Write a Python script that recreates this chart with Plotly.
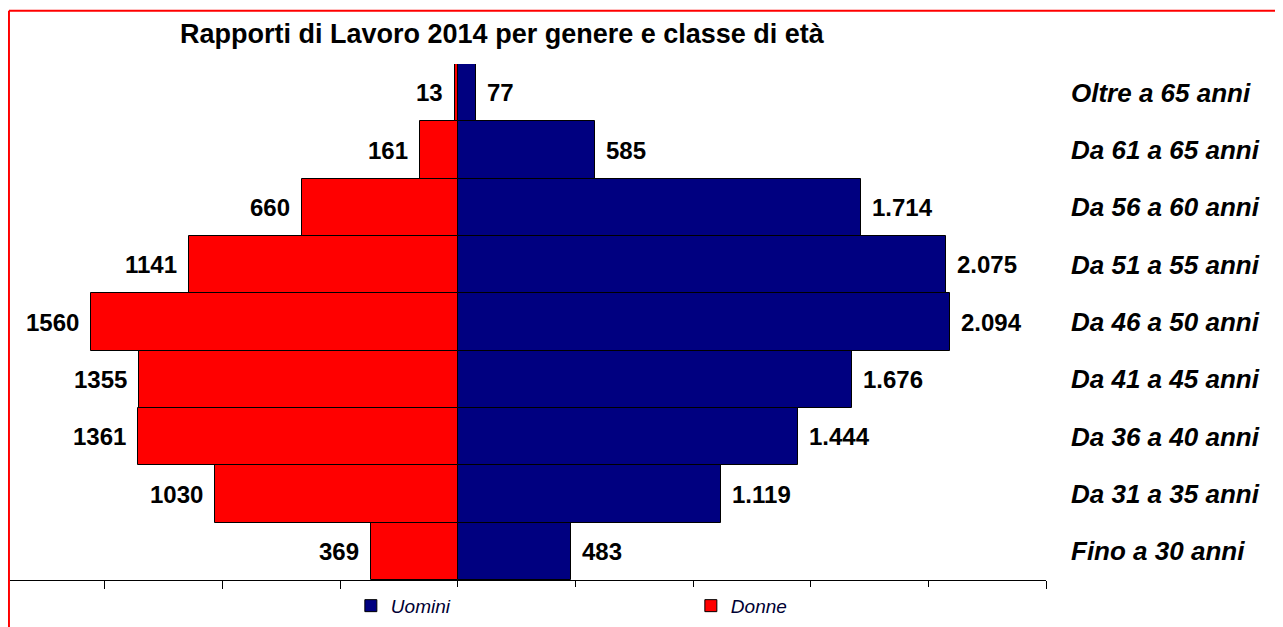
import plotly.graph_objects as go

# age classes, bottom to top
classi = [
    "Fino a 30 anni",
    "Da 31 a 35 anni",
    "Da 36 a 40 anni",
    "Da 41 a 45 anni",
    "Da 46 a 50 anni",
    "Da 51 a 55 anni",
    "Da 56 a 60 anni",
    "Da 61 a 65 anni",
    "Oltre a 65 anni",
]
uomini = [483, 1119, 1444, 1676, 2094, 2075, 1714, 585, 77]
donne = [369, 1030, 1361, 1355, 1560, 1141, 660, 161, 13]
tick_vals = [-1500, -1000, -500, 0, 500, 1000, 1500, 2000, 2500]

FONT = "Liberation Sans, Arial, sans-serif"


def it_thousands(v):
    return f"{v:,}".replace(",", ".")


fig = go.Figure()
fig.add_trace(
    go.Bar(
        y=classi,
        x=uomini,
        name="Uomini",
        orientation="h",
        marker=dict(color="#000080", line=dict(color="#000000", width=1)),
    )
)
fig.add_trace(
    go.Bar(
        y=classi,
        x=[-v for v in donne],
        name="Donne",
        orientation="h",
        marker=dict(color="#FF0000", line=dict(color="#000000", width=1)),
    )
)

# value labels
for c, v in zip(classi, uomini):
    fig.add_annotation(
        x=v, y=c, text=it_thousands(v), showarrow=False,
        xanchor="left", xshift=9,
        font=dict(family=FONT, size=24, color="#000000", weight="bold"),
    )
for c, v in zip(classi, donne):
    fig.add_annotation(
        x=-v, y=c, text=str(v), showarrow=False,
        xanchor="right", xshift=-10,
        font=dict(family=FONT, size=24, color="#000000", weight="bold"),
    )

# red chart border (top and left edges visible)
fig.add_shape(type="line", xref="paper", yref="paper", x0=-0.001, x1=1.3, y0=1.103, y1=1.103,
              line=dict(color="#FF0000", width=2))
fig.add_shape(type="line", xref="paper", yref="paper", x0=-0.001, x1=-0.001, y0=-0.2, y1=1.103,
              line=dict(color="#FF0000", width=2))

fig.update_layout(
    title=dict(
        text="Rapporti di Lavoro 2014 per genere e classe di età",
        x=0.385, xanchor="center", y=0.960, yanchor="middle",
        font=dict(family=FONT, size=27, color="#000000", weight="bold"),
    ),
    barmode="relative",
    bargap=0,
    paper_bgcolor="#FFFFFF",
    plot_bgcolor="#FFFFFF",
    width=1283,
    height=627,
    margin=dict(l=2, r=245, t=56, b=55),
    legend=dict(
        orientation="h", x=0.329, y=-0.05, xanchor="left", yanchor="middle",
        entrywidth=295, entrywidthmode="pixels",
        font=dict(family=FONT, size=19, color="#000033", style="italic"),
        traceorder="normal",
    ),
    showlegend=True,
)
fig.update_xaxes(
    range=[-1903, 2500],
    tickvals=tick_vals,
    showticklabels=False,
    ticks="outside",
    ticklen=8,
    tickcolor="#000000",
    showline=True,
    linecolor="#000000",
    linewidth=1,
    showgrid=False,
    zeroline=False,
    fixedrange=True,
)
fig.update_yaxes(
    side="right",
    showline=False,
    showgrid=False,
    ticks="",
    ticklabelstandoff=24,
    tickfont=dict(family=FONT, size=26, color="#000000", weight="bold", style="italic"),
    fixedrange=True,
)

fig.write_html("out.html")
